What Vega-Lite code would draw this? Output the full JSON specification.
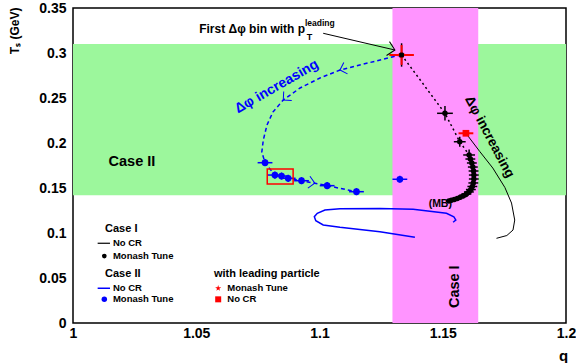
{
  "$schema": "https://vega.github.io/schema/vega-lite/v6.json",
  "width": 493,
  "height": 315,
  "autosize": {"type": "none"},
  "padding": {"left": 73, "top": 8, "right": 10, "bottom": 40},
  "config": {
    "font": "Liberation Sans",
    "view": {"stroke": "black", "strokeWidth": 1.5},
    "axis": {
      "grid": false, "domain": false,
      "labelFont": "Liberation Sans", "labelFontSize": 14, "labelFontWeight": "bold", "labelColor": "black",
      "titleFont": "Liberation Sans", "titleFontWeight": "bold", "titleColor": "black",
      "labelFlush": false, "labelOverlap": false
    }
  },
  "datasets": {
    "regionII": [{"q": 1.0, "q2": 1.2, "T": 0.142, "T2": 0.31}],
    "regionI": [{"q": 1.1296, "q2": 1.1644, "T": 0.0, "T2": 0.35}],
    "xmajor": [{"q": 1.05}, {"q": 1.1}, {"q": 1.15}],
    "xminor": [{"q": 1.01}, {"q": 1.02}, {"q": 1.03}, {"q": 1.04}, {"q": 1.06}, {"q": 1.07}, {"q": 1.08}, {"q": 1.09}, {"q": 1.11}, {"q": 1.12}, {"q": 1.13}, {"q": 1.14}, {"q": 1.16}, {"q": 1.17}, {"q": 1.18}, {"q": 1.19}],
    "ymajor": [{"T": 0.05}, {"T": 0.1}, {"T": 0.15}, {"T": 0.2}, {"T": 0.25}, {"T": 0.3}],
    "yminor": [{"T": 0.01}, {"T": 0.02}, {"T": 0.03}, {"T": 0.04}, {"T": 0.06}, {"T": 0.07}, {"T": 0.08}, {"T": 0.09}, {"T": 0.11}, {"T": 0.12}, {"T": 0.13}, {"T": 0.14}, {"T": 0.16}, {"T": 0.17}, {"T": 0.18}, {"T": 0.19}, {"T": 0.21}, {"T": 0.22}, {"T": 0.23}, {"T": 0.24}, {"T": 0.26}, {"T": 0.27}, {"T": 0.28}, {"T": 0.29}, {"T": 0.31}, {"T": 0.32}, {"T": 0.33}, {"T": 0.34}],
    "caseI_nocr": [
      {"i": 0, "q": 1.1594, "T": 0.2108},
      {"i": 1, "q": 1.1650, "T": 0.1906},
      {"i": 2, "q": 1.1703, "T": 0.1722},
      {"i": 3, "q": 1.1752, "T": 0.1506},
      {"i": 4, "q": 1.1779, "T": 0.1333},
      {"i": 5, "q": 1.1792, "T": 0.1144},
      {"i": 6, "q": 1.1785, "T": 0.1033},
      {"i": 7, "q": 1.1760, "T": 0.0972},
      {"i": 8, "q": 1.1718, "T": 0.0941}
    ],
    "caseII_nocr": [
      {"i": 0, "q": 1.1387, "T": 0.0952},
      {"i": 1, "q": 1.1245, "T": 0.1014},
      {"i": 2, "q": 1.1083, "T": 0.1063},
      {"i": 3, "q": 1.1015, "T": 0.1089},
      {"i": 4, "q": 1.0985, "T": 0.1137},
      {"i": 5, "q": 1.0979, "T": 0.1181},
      {"i": 6, "q": 1.0991, "T": 0.1219},
      {"i": 7, "q": 1.1022, "T": 0.1256},
      {"i": 8, "q": 1.1083, "T": 0.1270},
      {"i": 9, "q": 1.1245, "T": 0.1272},
      {"i": 10, "q": 1.1380, "T": 0.1263},
      {"i": 11, "q": 1.1515, "T": 0.1219},
      {"i": 12, "q": 1.1545, "T": 0.1181},
      {"i": 13, "q": 1.1553, "T": 0.1144},
      {"i": 14, "q": 1.1542, "T": 0.1119}
    ],
    "caseII_path": [
      {"i": 0, "q": 1.1333, "T": 0.2978},
      {"i": 1, "q": 1.1299, "T": 0.2959},
      {"i": 2, "q": 1.1204, "T": 0.2894},
      {"i": 3, "q": 1.1083, "T": 0.2811},
      {"i": 4, "q": 1.1002, "T": 0.2722},
      {"i": 5, "q": 1.0921, "T": 0.2611},
      {"i": 6, "q": 1.0853, "T": 0.2478},
      {"i": 7, "q": 1.0811, "T": 0.2344},
      {"i": 8, "q": 1.0787, "T": 0.2200},
      {"i": 9, "q": 1.0772, "T": 0.2033},
      {"i": 10, "q": 1.0766, "T": 0.1900},
      {"i": 11, "q": 1.0779, "T": 0.1781},
      {"i": 12, "q": 1.0819, "T": 0.1644},
      {"i": 13, "q": 1.0846, "T": 0.1633},
      {"i": 14, "q": 1.0873, "T": 0.1608},
      {"i": 15, "q": 1.0927, "T": 0.1581},
      {"i": 16, "q": 1.1031, "T": 0.1526},
      {"i": 17, "q": 1.1150, "T": 0.1459}
    ],
    "caseI_mon": [
      {"i": 0, "q": 1.1333, "T": 0.2978, "qlo": 1.1293, "qhi": 1.1373, "Tlo": 0.2848, "Thi": 0.3108},
      {"i": 1, "q": 1.1509, "T": 0.2330, "qlo": 1.1477, "qhi": 1.1541, "Tlo": 0.2250, "Thi": 0.2410},
      {"i": 2, "q": 1.1569, "T": 0.2014, "qlo": 1.1545, "qhi": 1.1593, "Tlo": 0.1959, "Thi": 0.2069},
      {"i": 3, "q": 1.1607, "T": 0.1867, "qlo": 1.1583, "qhi": 1.1631, "Tlo": 0.1807, "Thi": 0.1927},
      {"i": 4, "q": 1.1612, "T": 0.1822, "qlo": 1.1592, "qhi": 1.1632, "Tlo": 0.1787, "Thi": 0.1857},
      {"i": 5, "q": 1.1618, "T": 0.1778, "qlo": 1.1598, "qhi": 1.1638, "Tlo": 0.1743, "Thi": 0.1813},
      {"i": 6, "q": 1.1622, "T": 0.1733, "qlo": 1.1602, "qhi": 1.1642, "Tlo": 0.1698, "Thi": 0.1768},
      {"i": 7, "q": 1.1625, "T": 0.1689, "qlo": 1.1605, "qhi": 1.1645, "Tlo": 0.1654, "Thi": 0.1724},
      {"i": 8, "q": 1.1626, "T": 0.1644, "qlo": 1.1606, "qhi": 1.1646, "Tlo": 0.1609, "Thi": 0.1679},
      {"i": 9, "q": 1.1626, "T": 0.1600, "qlo": 1.1606, "qhi": 1.1646, "Tlo": 0.1565, "Thi": 0.1635},
      {"i": 10, "q": 1.1624, "T": 0.1556, "qlo": 1.1604, "qhi": 1.1644, "Tlo": 0.1521, "Thi": 0.1591},
      {"i": 11, "q": 1.1620, "T": 0.1517, "qlo": 1.1600, "qhi": 1.1640, "Tlo": 0.1482, "Thi": 0.1552},
      {"i": 12, "q": 1.1614, "T": 0.1483, "qlo": 1.1594, "qhi": 1.1634, "Tlo": 0.1448, "Thi": 0.1518},
      {"i": 13, "q": 1.1606, "T": 0.1456, "qlo": 1.1586, "qhi": 1.1626, "Tlo": 0.1421, "Thi": 0.1491},
      {"i": 14, "q": 1.1596, "T": 0.1433, "qlo": 1.1576, "qhi": 1.1616, "Tlo": 0.1398, "Thi": 0.1468},
      {"i": 15, "q": 1.1584, "T": 0.1413, "qlo": 1.1567, "qhi": 1.1601, "Tlo": 0.1383, "Thi": 0.1443},
      {"i": 16, "q": 1.1571, "T": 0.1398, "qlo": 1.1556, "qhi": 1.1586, "Tlo": 0.1368, "Thi": 0.1428},
      {"i": 17, "q": 1.1559, "T": 0.1384, "qlo": 1.1544, "qhi": 1.1574, "Tlo": 0.1357, "Thi": 0.1411},
      {"i": 18, "q": 1.1547, "T": 0.1373, "qlo": 1.1534, "qhi": 1.1560, "Tlo": 0.1348, "Thi": 0.1398},
      {"i": 19, "q": 1.1535, "T": 0.1363, "qlo": 1.1524, "qhi": 1.1546, "Tlo": 0.1341, "Thi": 0.1385},
      {"i": 20, "q": 1.1525, "T": 0.1356, "qlo": 1.1515, "qhi": 1.1535, "Tlo": 0.1336, "Thi": 0.1376}
    ],
    "caseII_mon": [
      {"q": 1.0779, "T": 0.1781, "qlo": 1.0749, "qhi": 1.0809, "Tlo": 0.1741, "Thi": 0.1821},
      {"q": 1.0819, "T": 0.1644, "qlo": 1.0789, "qhi": 1.0849, "Tlo": 0.1604, "Thi": 0.1684},
      {"q": 1.0846, "T": 0.1633, "qlo": 1.0816, "qhi": 1.0876, "Tlo": 0.1593, "Thi": 0.1673},
      {"q": 1.0873, "T": 0.1608, "qlo": 1.0843, "qhi": 1.0903, "Tlo": 0.1568, "Thi": 0.1648},
      {"q": 1.0927, "T": 0.1581, "qlo": 1.0897, "qhi": 1.0957, "Tlo": 0.1541, "Thi": 0.1621},
      {"q": 1.1031, "T": 0.1526, "qlo": 1.1001, "qhi": 1.1061, "Tlo": 0.1486, "Thi": 0.1566},
      {"q": 1.1150, "T": 0.1459, "qlo": 1.1120, "qhi": 1.1180, "Tlo": 0.1419, "Thi": 0.1499},
      {"q": 1.1326, "T": 0.1597, "qlo": 1.1296, "qhi": 1.1356, "Tlo": 0.1557, "Thi": 0.1637}
    ],
    "lead_mon": [{"q": 1.1333, "T": 0.2978, "qlo": 1.1283, "qhi": 1.1383, "Tlo": 0.2868, "Thi": 0.3088}],
    "lead_nocr": [{"q": 1.1594, "T": 0.2108, "qlo": 1.1564, "qhi": 1.1624, "Tlo": 0.2063, "Thi": 0.2153}],
    "box": [{"q": 1.0788, "q2": 1.0893, "T": 0.1544, "T2": 0.1711}]
  },
  "encoding": {
    "x": {"field": "q", "type": "quantitative", "scale": {"domain": [1, 1.2], "nice": false, "zero": false}, "axis": null},
    "y": {"field": "T", "type": "quantitative", "scale": {"domain": [0, 0.35], "nice": false, "zero": false}, "axis": null}
  },
  "layer": [
    {
      "data": {"name": "regionII"},
      "mark": {"type": "rect", "fill": "#9cf79c"},
      "encoding": {
        "x": {"field": "q", "type": "quantitative", "scale": {"domain": [1, 1.2], "nice": false, "zero": false},
          "axis": {"orient": "bottom", "values": [1, 1.05, 1.1, 1.15, 1.2], "ticks": false, "tickSize": 0, "labelPadding": 3, "format": "~g",
            "title": "q", "titleFontSize": 15, "titleX": 490, "titleY": 32, "titleAlign": "center", "titleBaseline": "middle", "titleAngle": 0}},
        "x2": {"field": "q2"},
        "y": {"field": "T", "type": "quantitative", "scale": {"domain": [0, 0.35], "nice": false, "zero": false},
          "axis": {"orient": "left", "values": [0, 0.05, 0.1, 0.15, 0.2, 0.25, 0.3, 0.35], "ticks": false, "tickSize": 0, "labelPadding": 7, "format": "~g",
            "title": "Tₛ (GeV)", "titleFontSize": 12, "titleAngle": -90, "titleAlign": "right", "titleBaseline": "middle", "titleX": -59, "titleY": -1}},
        "y2": {"field": "T2"}
      }
    },
    {
      "data": {"name": "regionI"},
      "mark": {"type": "rect", "fill": "#ff94ff"},
      "encoding": {"x2": {"field": "q2"}, "y2": {"field": "T2"}}
    },
    {
      "data": {"name": "xmajor"},
      "mark": {"type": "rule", "color": "black", "strokeWidth": 1},
      "encoding": {"y": {"datum": 0, "type": "quantitative", "axis": null}, "y2": {"datum": 0.0111}}
    },
    {
      "data": {"name": "xmajor"},
      "mark": {"type": "rule", "color": "black", "strokeWidth": 1},
      "encoding": {"y": {"datum": 0.35, "type": "quantitative", "axis": null}, "y2": {"datum": 0.3389}}
    },
    {
      "data": {"name": "xminor"},
      "mark": {"type": "rule", "color": "black", "strokeWidth": 1},
      "encoding": {"y": {"datum": 0, "type": "quantitative", "axis": null}, "y2": {"datum": 0.0056}}
    },
    {
      "data": {"name": "xminor"},
      "mark": {"type": "rule", "color": "black", "strokeWidth": 1},
      "encoding": {"y": {"datum": 0.35, "type": "quantitative", "axis": null}, "y2": {"datum": 0.3444}}
    },
    {
      "data": {"name": "ymajor"},
      "mark": {"type": "rule", "color": "black", "strokeWidth": 1},
      "encoding": {"x": {"datum": 1, "type": "quantitative", "axis": null}, "x2": {"datum": 1.0057}}
    },
    {
      "data": {"name": "ymajor"},
      "mark": {"type": "rule", "color": "black", "strokeWidth": 1},
      "encoding": {"x": {"datum": 1.2, "type": "quantitative", "axis": null}, "x2": {"datum": 1.1947}}
    },
    {
      "data": {"name": "yminor"},
      "mark": {"type": "rule", "color": "black", "strokeWidth": 1},
      "encoding": {"x": {"datum": 1, "type": "quantitative", "axis": null}, "x2": {"datum": 1.0028}}
    },
    {
      "data": {"name": "yminor"},
      "mark": {"type": "rule", "color": "black", "strokeWidth": 1},
      "encoding": {"x": {"datum": 1.2, "type": "quantitative", "axis": null}, "x2": {"datum": 1.1972}}
    },
    {
      "data": {"name": "caseI_nocr"},
      "mark": {"type": "line", "color": "black", "strokeWidth": 1},
      "encoding": {"order": {"field": "i", "type": "quantitative"}}
    },
    {
      "data": {"name": "caseII_nocr"},
      "mark": {"type": "line", "color": "#0000ff", "strokeWidth": 1.5},
      "encoding": {"order": {"field": "i", "type": "quantitative"}}
    },
    {
      "data": {"name": "caseII_path"},
      "mark": {"type": "line", "color": "#0000ff", "strokeWidth": 1.5, "strokeDash": [4, 3]},
      "encoding": {"order": {"field": "i", "type": "quantitative"}}
    },
    {
      "data": {"name": "caseI_mon"},
      "mark": {"type": "line", "color": "black", "strokeWidth": 1.5, "strokeDash": [2, 3]},
      "encoding": {"order": {"field": "i", "type": "quantitative"}}
    },
    {
      "data": {"name": "caseII_mon"},
      "mark": {"type": "rule", "color": "#0000ff", "strokeWidth": 1.5},
      "encoding": {"x": {"field": "qlo", "type": "quantitative"}, "x2": {"field": "qhi"}}
    },
    {
      "data": {"name": "caseII_mon"},
      "mark": {"type": "rule", "color": "#0000ff", "strokeWidth": 1.5},
      "encoding": {"y": {"field": "Tlo", "type": "quantitative"}, "y2": {"field": "Thi"}}
    },
    {
      "data": {"name": "caseII_mon"},
      "mark": {"type": "point", "shape": "circle", "filled": true, "color": "#0000ff", "opacity": 1, "size": 45}
    },
    {
      "data": {"name": "caseI_mon"},
      "mark": {"type": "rule", "color": "black", "strokeWidth": 1.5},
      "encoding": {"x": {"field": "qlo", "type": "quantitative"}, "x2": {"field": "qhi"}}
    },
    {
      "data": {"name": "caseI_mon"},
      "mark": {"type": "rule", "color": "black", "strokeWidth": 1.5},
      "encoding": {"y": {"field": "Tlo", "type": "quantitative"}, "y2": {"field": "Thi"}}
    },
    {
      "data": {"name": "caseI_mon"},
      "mark": {"type": "point", "shape": "circle", "filled": true, "color": "black", "opacity": 1, "size": 30}
    },
    {
      "data": {"name": "lead_mon"},
      "mark": {"type": "rule", "color": "#ff0000", "strokeWidth": 2},
      "encoding": {"x": {"field": "qlo", "type": "quantitative"}, "x2": {"field": "qhi"}}
    },
    {
      "data": {"name": "lead_mon"},
      "mark": {"type": "rule", "color": "#ff0000", "strokeWidth": 2},
      "encoding": {"y": {"field": "Tlo", "type": "quantitative"}, "y2": {"field": "Thi"}}
    },
    {
      "data": {"name": "lead_mon"},
      "mark": {"type": "point", "shape": "M0,-1L0.223,-0.307L0.951,-0.309L0.361,0.117L0.588,0.809L0,0.38L-0.588,0.809L-0.361,0.117L-0.951,-0.309L-0.223,-0.307Z", "filled": true, "color": "#ff0000", "opacity": 1, "size": 60}
    },
    {
      "data": {"name": "lead_mon"},
      "mark": {"type": "point", "shape": "circle", "filled": true, "color": "black", "opacity": 1, "size": 25}
    },
    {
      "data": {"name": "lead_nocr"},
      "mark": {"type": "rule", "color": "#ff0000", "strokeWidth": 2},
      "encoding": {"x": {"field": "qlo", "type": "quantitative"}, "x2": {"field": "qhi"}}
    },
    {
      "data": {"name": "lead_nocr"},
      "mark": {"type": "point", "shape": "square", "filled": true, "color": "#ff0000", "opacity": 1, "size": 45}
    },
    {
      "data": {"name": "box"},
      "mark": {"type": "rect", "fill": null, "fillOpacity": 0, "stroke": "#ff0000", "strokeWidth": 1.5},
      "encoding": {"x2": {"field": "q2"}, "y2": {"field": "T2"}}
    },
    {
      "data": {"values": [{"q": 1.1083, "T": 0.2811}]},
      "mark": {"type": "point", "shape": "M-1,-1L0,0L-1,1", "filled": false, "color": "#0000ff", "opacity": 1, "strokeWidth": 1, "size": 144, "angle": 162}
    },
    {
      "data": {"values": [{"q": 1.0853, "T": 0.2478}]},
      "mark": {"type": "point", "shape": "M-1,-1L0,0L-1,1", "filled": false, "color": "#0000ff", "opacity": 1, "strokeWidth": 1, "size": 144, "angle": 138}
    },
    {
      "data": {"values": [{"q": 1.0981, "T": 0.1553}]},
      "mark": {"type": "point", "shape": "M-1,-1L0,0L-1,1", "filled": false, "color": "#0000ff", "opacity": 1, "strokeWidth": 1, "size": 144, "angle": 10}
    },
    {
      "data": {"values": [{"i": 0, "q": 1.1015, "T": 0.3219}, {"i": 1, "q": 1.1306, "T": 0.3033}]},
      "mark": {"type": "line", "color": "black", "strokeWidth": 1},
      "encoding": {"order": {"field": "i", "type": "quantitative"}}
    },
    {
      "data": {"values": [{"q": 1.1306, "T": 0.3033}]},
      "mark": {"type": "point", "shape": "M-1,-1L0,0L-1,1", "filled": false, "color": "black", "opacity": 1, "strokeWidth": 1, "size": 200, "angle": 12}
    },
    {
      "data": {"values": [{"q": 1.0512, "T": 0.327, "label": "First Δφ bin with p"}]},
      "mark": {"type": "text", "align": "left", "baseline": "middle", "fontSize": 12, "fontWeight": "bold", "font": "Liberation Sans", "color": "black"},
      "encoding": {"text": {"field": "label"}}
    },
    {
      "data": {"values": [{"q": 1.0948, "T": 0.3181, "label": "T"}]},
      "mark": {"type": "text", "align": "left", "baseline": "middle", "fontSize": 9, "fontWeight": "bold", "font": "Liberation Sans", "color": "black"},
      "encoding": {"text": {"field": "label"}}
    },
    {
      "data": {"values": [{"q": 1.0941, "T": 0.3337, "label": "leading"}]},
      "mark": {"type": "text", "align": "left", "baseline": "middle", "fontSize": 8.5, "fontWeight": "bold", "font": "Liberation Sans", "color": "black"},
      "encoding": {"text": {"field": "label"}}
    },
    {
      "data": {"values": [{"q": 1.0826, "T": 0.2626, "label": "Δφ increasing"}]},
      "mark": {"type": "text", "align": "center", "baseline": "middle", "fontSize": 14, "fontWeight": "bold", "font": "Liberation Sans", "color": "#0000ff", "angle": -30},
      "encoding": {"text": {"field": "label"}}
    },
    {
      "data": {"values": [{"q": 1.1690, "T": 0.2067, "label": "Δφ increasing"}]},
      "mark": {"type": "text", "align": "center", "baseline": "middle", "fontSize": 13.5, "fontWeight": "bold", "font": "Liberation Sans", "color": "black", "angle": 62},
      "encoding": {"text": {"field": "label"}}
    },
    {
      "data": {"values": [{"q": 1.0239, "T": 0.1789, "label": "Case II"}]},
      "mark": {"type": "text", "align": "center", "baseline": "middle", "fontSize": 14.5, "fontWeight": "bold", "font": "Liberation Sans", "color": "black"},
      "encoding": {"text": {"field": "label"}}
    },
    {
      "data": {"values": [{"q": 1.1549, "T": 0.0403, "label": "Case I"}]},
      "mark": {"type": "text", "align": "center", "baseline": "middle", "fontSize": 14.5, "fontWeight": "bold", "font": "Liberation Sans", "color": "black", "angle": -90},
      "encoding": {"text": {"field": "label"}}
    },
    {
      "data": {"values": [{"q": 1.1490, "T": 0.1325, "label": "(MB)"}]},
      "mark": {"type": "text", "align": "center", "baseline": "middle", "fontSize": 10.5, "fontWeight": "bold", "font": "Liberation Sans", "color": "black"},
      "encoding": {"text": {"field": "label"}}
    },
    {
      "data": {"values": [{"q": 1.0130, "T": 0.1041, "label": "Case I"}, {"q": 1.0130, "T": 0.0544, "label": "Case II"}, {"q": 1.0572, "T": 0.0544, "label": "with leading particle"}]},
      "mark": {"type": "text", "align": "left", "baseline": "middle", "fontSize": 11, "fontWeight": "bold", "font": "Liberation Sans", "color": "black"},
      "encoding": {"text": {"field": "label"}}
    },
    {
      "data": {"values": [
        {"q": 1.0162, "T": 0.0886, "label": "No CR"},
        {"q": 1.0162, "T": 0.0744, "label": "Monash Tune"},
        {"q": 1.0162, "T": 0.0386, "label": "No CR"},
        {"q": 1.0162, "T": 0.0263, "label": "Monash Tune"},
        {"q": 1.0626, "T": 0.0386, "label": "Monash Tune"},
        {"q": 1.0626, "T": 0.0263, "label": "No CR"}
      ]},
      "mark": {"type": "text", "align": "left", "baseline": "middle", "fontSize": 9.5, "fontWeight": "bold", "font": "Liberation Sans", "color": "black"},
      "encoding": {"text": {"field": "label"}}
    },
    {
      "data": {"values": [{"q": 1.0100, "q2": 1.0150, "T": 0.0886}]},
      "mark": {"type": "rule", "color": "black", "strokeWidth": 1.2},
      "encoding": {"x2": {"field": "q2"}}
    },
    {
      "data": {"values": [{"q": 1.0100, "q2": 1.0150, "T": 0.0386}]},
      "mark": {"type": "rule", "color": "#0000ff", "strokeWidth": 1.5},
      "encoding": {"x2": {"field": "q2"}}
    },
    {
      "data": {"values": [{"q": 1.0127, "T": 0.0744}]},
      "mark": {"type": "point", "shape": "circle", "filled": true, "color": "black", "opacity": 1, "size": 22}
    },
    {
      "data": {"values": [{"q": 1.0127, "T": 0.0263}]},
      "mark": {"type": "point", "shape": "circle", "filled": true, "color": "#0000ff", "opacity": 1, "size": 30}
    },
    {
      "data": {"values": [{"q": 1.0589, "T": 0.0386}]},
      "mark": {"type": "point", "shape": "M0,-1L0.223,-0.307L0.951,-0.309L0.361,0.117L0.588,0.809L0,0.38L-0.588,0.809L-0.361,0.117L-0.951,-0.309L-0.223,-0.307Z", "filled": true, "color": "#ff0000", "opacity": 1, "size": 40}
    },
    {
      "data": {"values": [{"q": 1.0589, "T": 0.0263}]},
      "mark": {"type": "point", "shape": "square", "filled": true, "color": "#ff0000", "opacity": 1, "size": 36}
    }
  ],
  "resolve": {"axis": {"x": "independent", "y": "independent"}}
}
